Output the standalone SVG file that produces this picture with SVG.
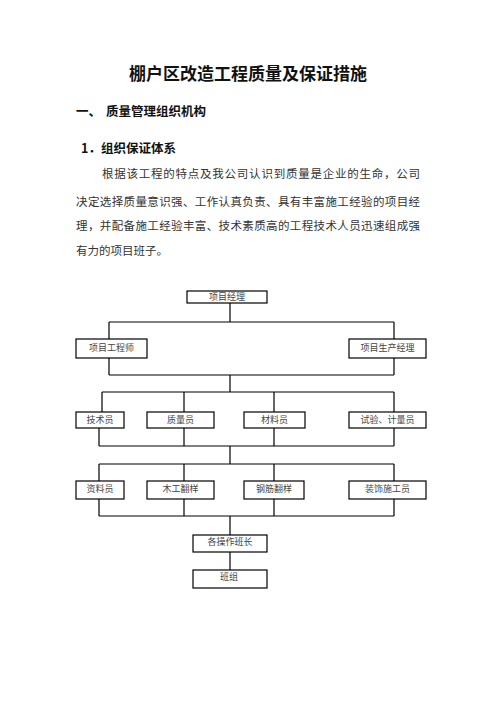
<svg xmlns="http://www.w3.org/2000/svg" width="496" height="702" viewBox="0 0 496 702">
<style>
.bx{fill:#fff;stroke:#000;stroke-width:1.2}
.lb{font-family:"Liberation Serif","Noto Sans CJK SC",serif;font-size:9px;fill:#444;text-anchor:middle}
.cn{fill:none;stroke:#000;stroke-width:1.2}
.h{font-family:"Noto Sans CJK SC",sans-serif;font-weight:bold;fill:#111}
.p{font-family:"Noto Sans CJK SC",sans-serif;font-size:11.5px;fill:#333}
</style>
<rect width="496" height="702" fill="#fff"/>
<text class="h" x="248" y="80" font-size="17" text-anchor="middle">棚户区改造工程质量及保证措施</text>
<text class="h" x="76" y="116" font-size="12.5">一、</text>
<text class="h" x="106" y="116" font-size="12.5">质量管理组织机构</text>
<text class="h" x="81" y="153" font-size="12.5">1．组织保证体系</text>
<text class="p" x="102" y="178" textLength="318" lengthAdjust="spacing">根据该工程的特点及我公司认识到质量是企业的生命，公司</text>
<text class="p" x="76" y="206" textLength="344" lengthAdjust="spacing">决定选择质量意识强、工作认真负责、具有丰富施工经验的项目经</text>
<text class="p" x="76" y="230" textLength="344" lengthAdjust="spacing">理，并配备施工经验丰富、技术素质高的工程技术人员迅速组成强</text>
<text class="p" x="76" y="255" textLength="92" lengthAdjust="spacing">有力的项目班子。</text>
<g id="connectors" class="cn">
<path d="M230 303V322M109 322H394M109 322V339M394 322V339"/>
<path d="M109 358V375M394 358V375M109 375H394M230 375V392"/>
<path d="M102 392H394M102 392V412M184 392V412M274 392V412M394 392V412"/>
<path d="M99 428V446M184 428V446M274 428V446M394 428V446M99 446H394M230 446V464"/>
<path d="M99 464H394M99 464V481M184 464V481M274 464V481M394 464V481"/>
<path d="M99 499V516M184 499V516M274 499V516M394 499V516M99 516H394M230 516V535"/>
<path d="M230 552V570"/>
</g>
<g id="n1"><rect class="bx" x="187" y="291" width="80" height="12"/><text class="lb" x="227" y="300">项目经理</text></g>
<g id="n2"><rect class="bx" x="76" y="339" width="71" height="19"/><text class="lb" x="111.5" y="351">项目工程师</text></g>
<g id="n3"><rect class="bx" x="349" y="339" width="77" height="19"/><text class="lb" x="387.5" y="351">项目生产经理</text></g>
<g id="n4"><rect class="bx" x="76" y="412" width="48" height="16"/><text class="lb" x="100" y="422.5">技术员</text></g>
<g id="n5"><rect class="bx" x="147" y="412" width="67" height="16"/><text class="lb" x="180.5" y="422.5">质量员</text></g>
<g id="n6"><rect class="bx" x="244" y="412" width="61" height="16"/><text class="lb" x="274.5" y="422.5">材料员</text></g>
<g id="n7"><rect class="bx" x="349" y="412" width="77" height="16"/><text class="lb" x="387.5" y="422.5">试验、计量员</text></g>
<g id="n8"><rect class="bx" x="76" y="481" width="48" height="18"/><text class="lb" x="100" y="491.5">资料员</text></g>
<g id="n9"><rect class="bx" x="147" y="481" width="67" height="18"/><text class="lb" x="180.5" y="491.5">木工翻样</text></g>
<g id="n10"><rect class="bx" x="244" y="481" width="60" height="18"/><text class="lb" x="274" y="491.5">钢筋翻样</text></g>
<g id="n11"><rect class="bx" x="349" y="481" width="77" height="18"/><text class="lb" x="387.5" y="491.5">装饰施工员</text></g>
<g id="n12"><rect class="bx" x="193" y="535" width="74" height="17"/><text class="lb" x="230" y="544.5">各操作班长</text></g>
<g id="n13"><rect class="bx" x="193" y="570" width="74" height="18"/><text class="lb" x="229" y="580">班组</text></g>
</svg>
